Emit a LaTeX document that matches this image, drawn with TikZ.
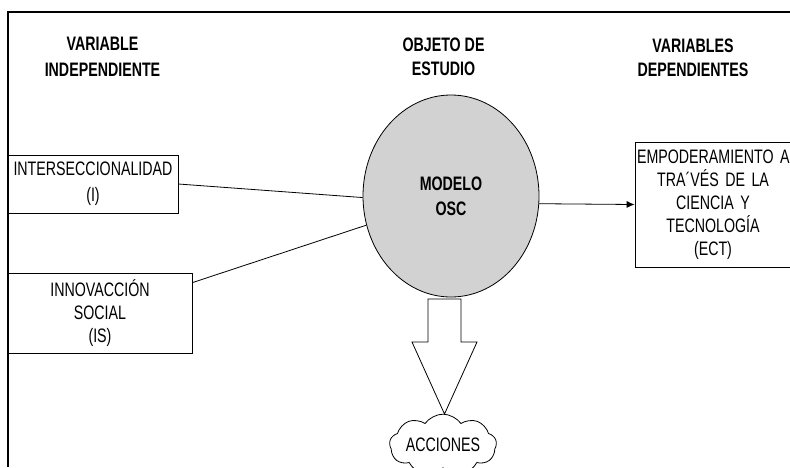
\documentclass[tikz,border=0pt]{standalone}
\usepackage{fontspec}
\setmainfont{Liberation Sans}[FakeStretch=0.73]
\usetikzlibrary{arrows.meta,shapes.geometric,shapes.symbols}
\definecolor{oscgray}{RGB}{210,210,210}

\begin{document}
\begin{tikzpicture}[
    x=1pt, y=-1pt,
    font=\fontsize{19.5}{23}\selectfont,
    header/.style={font=\fontsize{19.5}{24}\selectfont\bfseries, align=center, inner sep=0pt},
    varbox/.style={draw, line width=0.8pt, align=center, inner sep=2pt},
    link/.style={line width=0.8pt},
    bigarrow/.style={draw, line width=0.8pt, fill=white, line join=miter}
]

    \useasboundingbox (0,0) rectangle (790,467);

    % frame
    \draw[line width=2.2pt] (8,467) -- (8,12) -- (790,12);

    % headers
    \node[header, font=\fontsize{19.5}{26}\selectfont\bfseries] (hIndep) at (102.5,57) {VARIABLE\\INDEPENDIENTE};
    \node[header] (hObj) at (443.5,57) {OBJETO DE\\ESTUDIO};
    \node[header] (hDep) at (693,57.5) {VARIABLES\\DEPENDIENTES};

    % independent variables
    \node[varbox, minimum width=170, minimum height=58, font=\fontsize{19.5}{26}\selectfont] (inter) at (93,184) {INTERSECCIONALIDAD\\(I)};
    \node[varbox, minimum width=184, minimum height=80] (innov) at (100,313) {INNOVACCIÓN\\SOCIAL\\(IS)};

    % object of study
    \node[ellipse, draw, line width=0.8pt, fill=oscgray, minimum width=176, minimum height=202,
          font=\fontsize{19.5}{25}\selectfont\bfseries, align=center] (ell) at (451,196) {MODELO\\OSC};

    % dependent variable
    \node[varbox, text width=152, minimum height=125] (ect) at (713,204.5)
        {EMPODERAMIENTO~A\\TRA´VÉS DE LA\\CIENCIA Y\\TECNOLOGÍA\\(ECT)};

    % actions
    \node[cloud, draw, line width=0.8pt, cloud puffs=9, cloud puff arc=110, aspect=2.3, minimum width=107, minimum height=46,
          inner sep=0pt] (acc) at (443,445) {ACCIONES};

    % connections
    \draw[link] (inter.east) -- (ell.181);
    \draw[link] ([yshift=-10pt]innov.north east) -- (ell.199);
    \draw[link, -{Latex[length=8pt, width=7pt]}] (ell.-5) -- (ect.west);

    \draw[bigarrow] (428,299) -- (428,342) -- (412,342) -- (444.5,414) -- (477,342) -- (461,342) -- (461,299) -- cycle;

\end{tikzpicture}
\end{document}
